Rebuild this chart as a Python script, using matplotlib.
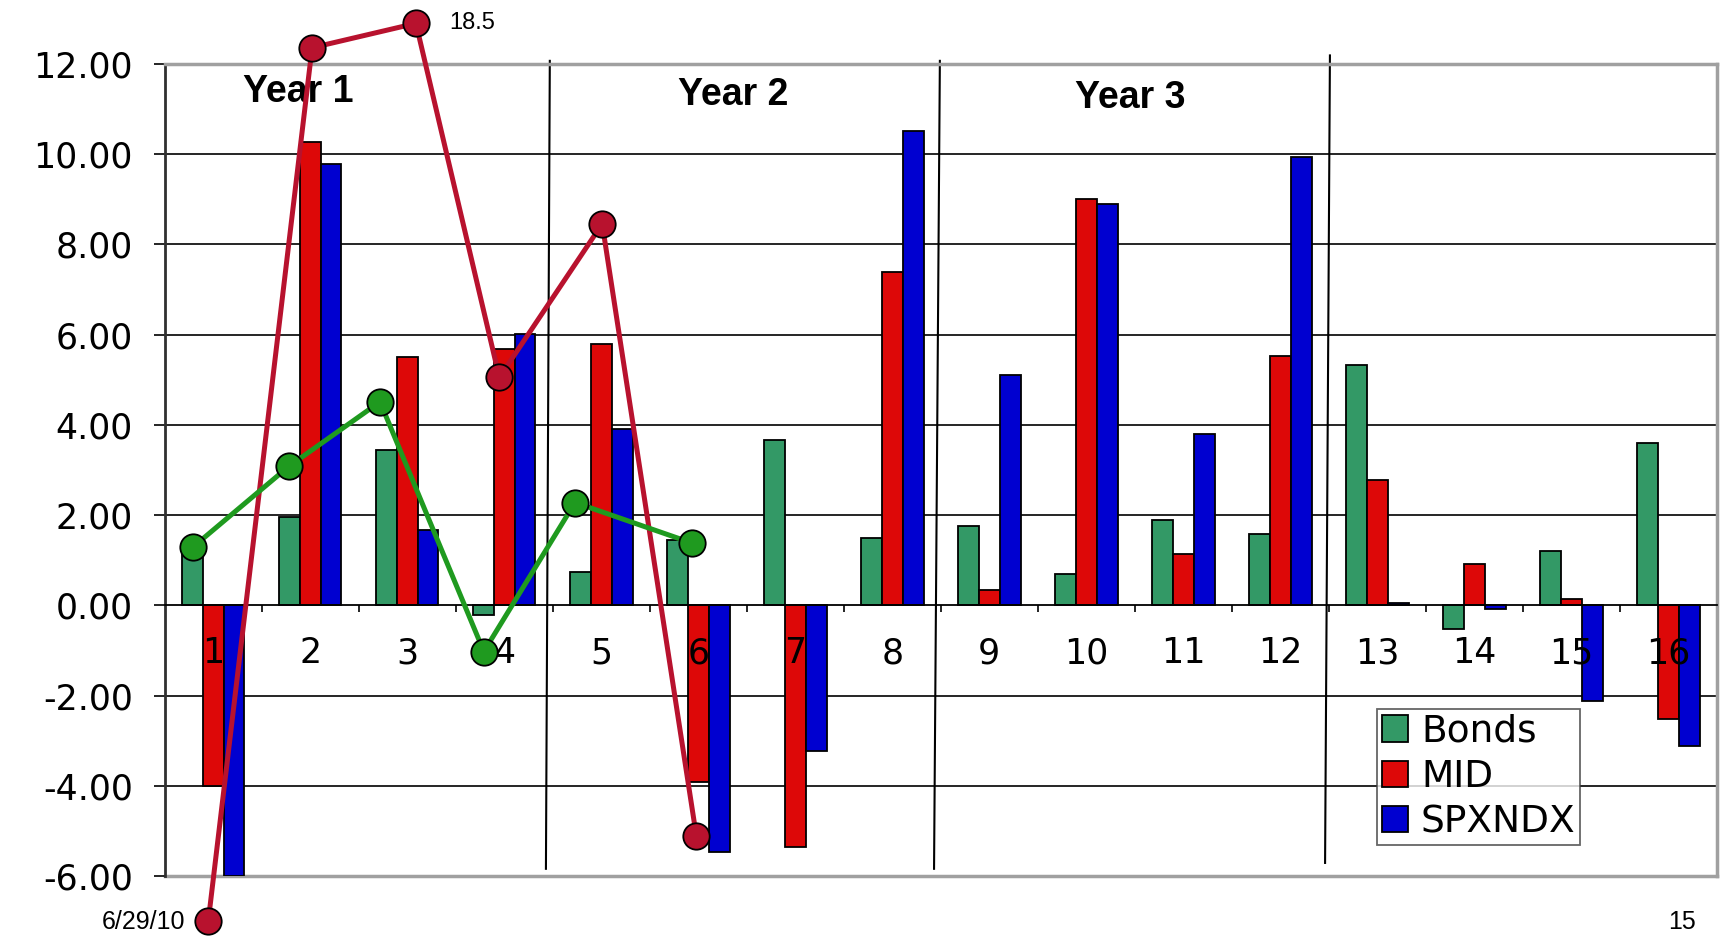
import numpy as np
import matplotlib
matplotlib.use("Agg")
from matplotlib import pyplot as plt
from matplotlib.patches import Patch

plt.rcParams['axes.unicode_minus'] = False
plt.rcParams['font.family'] = ['DejaVu Sans']

# data
categories = [str(i) for i in range(1, 17)]
bonds = [1.30, 1.97, 3.45, -0.20, 0.75, 1.46, 3.66, 1.50, 1.77, 0.70, 1.90, 1.58, 5.32, -0.53, 1.21, 3.60]
mid = [-4.00, 10.27, 5.51, 5.68, 5.80, -3.90, -5.34, 7.38, 0.34, 9.00, 1.14, 5.53, 2.77, 0.92, 0.15, -2.52]
spxndx = [-6.00, 9.78, 1.67, 6.02, 3.90, -5.46, -3.23, 10.50, 5.10, 8.90, 3.79, 9.93, 0.05, -0.07, -2.11, -3.10]

# hand-drawn overlay lines (x in category units)
red_x = [0.95, 2.02, 3.09, 3.95, 5.01, 5.98]
red_y = [-6.99, 12.35, 12.89, 5.05, 8.45, -5.10]
green_x = [0.79, 1.78, 2.72, 3.79, 4.73, 5.94]
green_y = [1.29, 3.08, 4.51, -1.02, 2.28, 1.38]

# year separators: x at top and bottom, y extent
sep_top = [4.47, 8.49, 12.51]
sep_bot = [4.43, 8.43, 12.46]
sep_y = [(12.06, -5.83), (12.06, -5.83), (12.18, -5.70)]

years = ["Year 1", "Year 2", "Year 3"]
year_pos = [(1.88, 11.38), (6.36, 11.31), (10.45, 11.24)]

yticks = [12, 10, 8, 6, 4, 2, 0, -2, -4, -6]
ytick_labels = ["%.2f" % v for v in yticks]

fig = plt.figure(figsize=(17.2, 9.36), dpi=100)
ax = fig.add_axes([0.0957, 0.0636, 0.9026, 0.8685])

x = np.arange(1, len(categories) + 1)
w = 0.215
cols = ['#339966', '#dd0808', '#0000d0']
names = ['Bonds', 'MID', 'SPXNDX']
for k, (vals, c) in enumerate(zip([bonds, mid, spxndx], cols)):
    ax.bar(x + (k - 1) * w, vals, width=w, color=c, edgecolor='black', lw=1.3, zorder=1)

# gridlines behind the bars
for v in yticks:
    if v not in (0, -6):
        ax.axhline(v, color='black', lw=1.2, zorder=0.5)

ax.set_xlim(0.5, 16.5)
ax.set_ylim(-6, 12)

# frame
for s in ['top', 'right']:
    ax.spines[s].set_color('#a0a0a0')
    ax.spines[s].set_linewidth(2.5)
ax.spines['left'].set_color('#303030')
ax.spines['left'].set_linewidth(2)
ax.spines['bottom'].set_position(('data', 0))
ax.spines['bottom'].set_color('black')
ax.spines['bottom'].set_linewidth(1.3)
ax.axhline(-6, color='#a0a0a0', lw=2.5, clip_on=False, zorder=0.6)

ax.set_yticks(yticks)
ax.set_yticklabels(ytick_labels, fontsize=25)
ax.tick_params(axis='y', direction='out', length=8, width=1.2, pad=15)

ax.set_xticks(x)
ax.set_xticklabels(categories, fontsize=25)
ax.set_xticks(np.arange(1.5, 16.5, 1), minor=True)
ax.tick_params(axis='x', which='major', length=0, pad=22)
ax.tick_params(axis='x', which='minor', direction='out', length=5, width=1.2)
ax.xaxis.set_zorder(1.5)

# year separators
for xt, xb, (yt, yb) in zip(sep_top, sep_bot, sep_y):
    ax.plot([xt, xb], [yt, yb], color='black', lw=1.5, clip_on=False, zorder=2)

for t, (px, py) in zip(years, year_pos):
    ax.text(px, py, t, fontsize=27, fontweight='bold', family='Liberation Sans',
            ha='center', va='center', zorder=2)

# overlay lines
ax.plot(red_x, red_y, color='#b8122e', lw=3.6, marker='o', ms=19,
        mfc='#b8122e', mec='black', mew=1.3, clip_on=False, zorder=4)
ax.plot(green_x, green_y, color='#1f9a1f', lw=3.6, marker='o', ms=19,
        mfc='#1f9a1f', mec='black', mew=1.3, clip_on=False, zorder=4)
ax.text(red_x[2] + 0.34, red_y[2], "18.5", fontsize=17, family='Liberation Sans',
        ha='left', va='center')

handles = [Patch(facecolor=c, edgecolor='black', lw=1.3) for c in cols]
leg = ax.legend(handles, names, loc='upper left', bbox_to_anchor=(0.781, 0.206),
                fontsize=27, frameon=True, fancybox=False, borderpad=0.12,
                labelspacing=0.25, handlelength=0.7, handleheight=0.7,
                handletextpad=0.35, borderaxespad=0)
leg.get_frame().set_edgecolor('#404040')
leg.get_frame().set_linewidth(1.3)
leg.set_zorder(5)

fig.text(0.059, 0.008, "6/29/10", fontsize=18, family='Liberation Sans', ha='left', va='baseline')
fig.text(0.978, 0.008, "15", fontsize=18, family='Liberation Sans', ha='center', va='baseline')

plt.savefig('out.png', dpi=100)
